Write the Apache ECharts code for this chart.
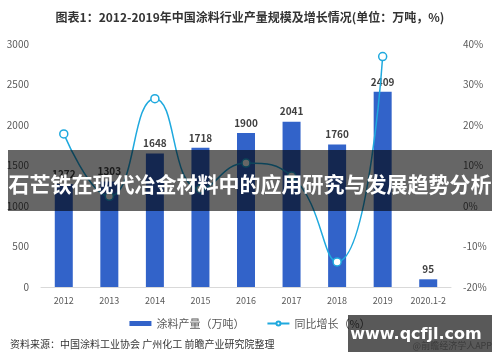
<!DOCTYPE html>
<html>
<head>
<meta charset="utf-8">
<script src="https://cdn.jsdelivr.net/npm/echarts@6/dist/echarts.min.js"></script>
<style>html,body{margin:0;padding:0;background:#fff}#c{width:500px;height:362px}</style>
</head>
<body>
<div id="c"></div>
<script>
var categories = ['2012','2013','2014','2015','2016','2017','2018','2019','2020.1-2'];
var production = [1272,1303,1648,1718,1900,2041,1760,2409,95];
var growth = [17.8,2.4,26.5,4.2,10.6,7.4,-13.8,36.9,null];
var leftTicks = {min:0,max:3000,interval:500};
var rightTicks = {min:-20,max:40,interval:10};

var chart = echarts.init(document.getElementById('c'));
var font = '"Noto Sans CJK SC", "Microsoft YaHei", sans-serif';
chart.setOption({
  animation:false,
  textStyle:{fontFamily:font},
  title:{
    text:'图表1：2012-2019年中国涂料行业产量规模及增长情况(单位：万吨，%)',
    left:'center', top:6,
    textStyle:{fontSize:12,fontWeight:'bold',color:'#333',fontFamily:font}
  },
  legend:{
    bottom:28, left:'center', itemGap:22, itemWidth:22, itemHeight:5,
    textStyle:{fontSize:11,color:'#595959',fontFamily:font},
    data:[{name:'涂料产量（万吨）',icon:'rect'},{name:'同比增长（%）'}]
  },
  grid:{left:41,right:49,top:44,bottom:75},
  xAxis:{
    type:'category', data:categories,
    axisLine:{lineStyle:{color:'#d9d9d9'}},
    axisTick:{show:false},
    axisLabel:{fontSize:9,color:'#595959',margin:9,interval:0}
  },
  yAxis:[
    {type:'value',min:leftTicks.min,max:leftTicks.max,interval:leftTicks.interval,
     splitLine:{show:false},axisLine:{show:false},axisTick:{show:false},
     axisLabel:{fontSize:10,color:'#595959',margin:12,formatter:function(v){return String(v);}}},
    {type:'value',min:rightTicks.min,max:rightTicks.max,interval:rightTicks.interval,
     splitLine:{show:false},axisLine:{show:false},axisTick:{show:false},
     axisLabel:{fontSize:10,color:'#595959',margin:12,formatter:'{value}%'}}
  ],
  series:[
    {name:'涂料产量（万吨）',type:'bar',data:production,barWidth:18,
     itemStyle:{color:'#3263c9'},
     label:{show:true,position:'top',distance:5,fontSize:10,fontWeight:'bold',color:'#404040'}},
    {name:'同比增长（%）',type:'line',yAxisIndex:1,data:growth,smooth:true,
     symbol:'circle',symbolSize:8,
     lineStyle:{color:'#1fa9de',width:1.5},
     itemStyle:{color:'#fff',borderColor:'#1fa9de',borderWidth:1.5}}
  ],
  graphic:[
    {type:'text',left:10,top:339,z:10,
     style:{text:'资料来源：中国涂料工业协会 广州化工 前瞻产业研究院整理',fontSize:10,fill:'#333',fontFamily:font}},
    {type:'text',right:8,top:341,z:10,
     style:{text:'@前瞻经济学人APP',fontSize:9,fill:'#aaa',fontFamily:font}},
    {type:'rect',shape:{x:8,y:150,width:484,height:61},z:100,
     style:{fill:'rgba(0,0,0,0.6)'}},
    {type:'text',x:250,y:184,z:101,
     style:{text:'石芒铁在现代冶金材料中的应用研究与发展趋势分析',fontSize:21,fontWeight:'bold',fill:'#fff',
            align:'center',verticalAlign:'middle',fontFamily:font}},
    {type:'rect',shape:{x:348,y:315,width:144,height:37},z:100,
     style:{fill:'rgba(0,0,0,0.65)'}},
    {type:'text',x:416,y:335,z:101,
     style:{text:'www.qcfjl.com',fontSize:16,fontWeight:'bold',fill:'#fff',
            align:'center',verticalAlign:'middle',fontFamily:'"DejaVu Sans", sans-serif'}}
  ]
});
</script>
</body>
</html>
